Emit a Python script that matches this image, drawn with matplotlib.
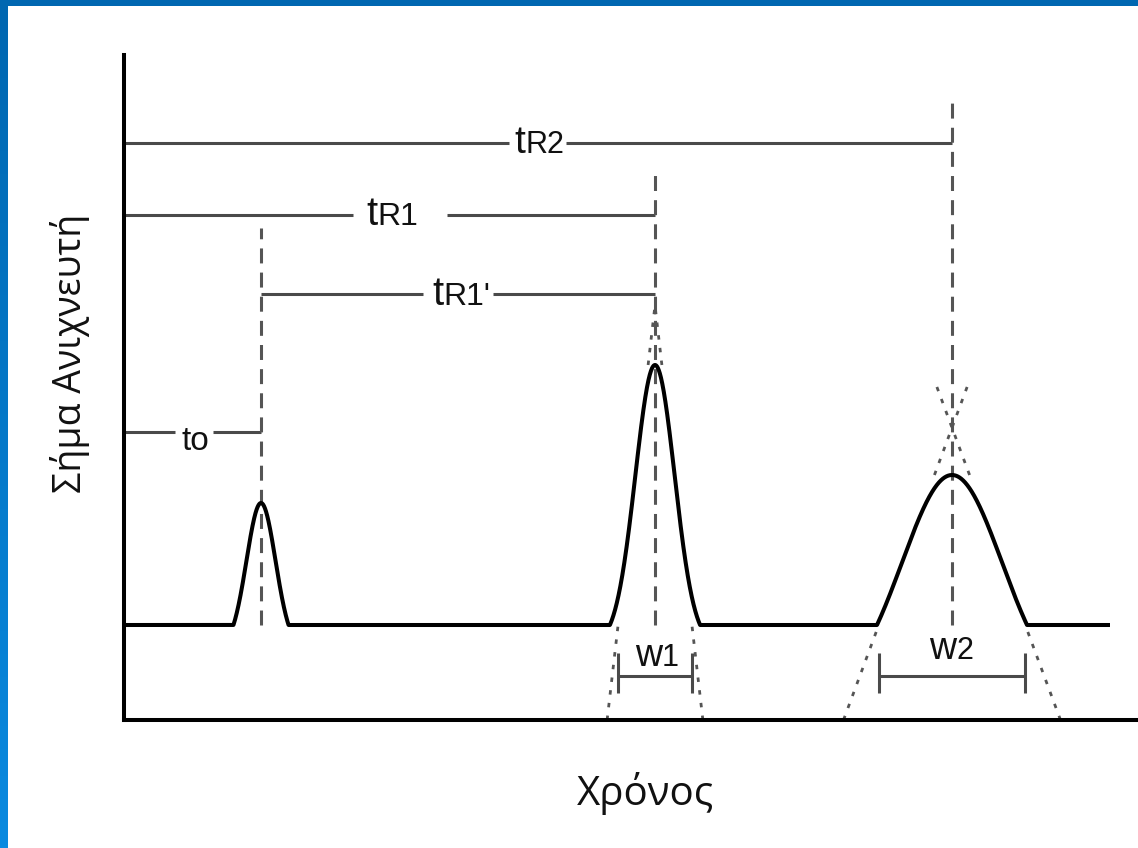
import numpy as np
import matplotlib
matplotlib.use("Agg")
import matplotlib.pyplot as plt
from matplotlib.patches import Rectangle
from matplotlib.colors import LinearSegmentedColormap
from matplotlib.offsetbox import TextArea, HPacker, AnnotationBbox

# ---- chromatogram: three peaks on a flat baseline ----
baseline = 0.95
run_end = 9.86
peak_times = [1.37, 5.31, 8.28]
peak_heights = [1.22, 2.60, 1.50]
peak_sigmas = [0.145, 0.196, 0.50]
peak_cutoffs = [1.9, 2.3, 1.5]          # Gaussian truncation, in sigmas

# dashed retention-time markers: upper end of each
marker_tops = [4.92, 5.45, 6.25]

# dimension lines: level, start, end, gap start, gap end
dim_levels = [2.88, 4.26, 5.05, 5.77]
dim_starts = [0.0, 1.37, 0.0, 0.0]
dim_ends = [1.37, 5.31, 5.31, 8.28]
dim_gap_lo = [0.51, 2.99, 2.29, 3.85]
dim_gap_hi = [0.89, 3.69, 3.23, 4.42]
dim_label_x = [0.715, 3.37, 2.68, 4.15]
dim_label_y = [2.79, 4.26, 5.06, 5.77]
dim_label_main = ["to", "t", "t", "t"]
dim_label_sub = ["", "R1'", "R1", "R2"]
dim_main_size = [24, 29, 29, 28]
dim_sub_size = [24, 23, 23, 22]

# peak widths from tangents at the inflection points
width_peaks = [1, 2]
width_names = ["1", "2"]
tangent_reach = [4.15, 3.35]
width_bar_level = 0.44
width_tick_lo, width_tick_hi = 0.27, 0.67
width_label_x = [5.33, 8.27]
width_label_y = [0.64, 0.71]

W, H = 1138, 848
fig = plt.figure(figsize=(W / 100, H / 100), dpi=100)
fig.patch.set_facecolor("white")

# blue frame: top band and a vertical gradient band on the left
fig.add_artist(Rectangle((0, 1 - 6 / H), 1, 6 / H, transform=fig.transFigure,
                         color="#0067b1", lw=0, zorder=10))
axb = fig.add_axes([0, 0, 8 / W, 1 - 6 / H])
grad = np.linspace(0, 1, 256)[:, None]
cmap = LinearSegmentedColormap.from_list("frame", ["#0067b1", "#0a8ae0"])
axb.imshow(grad, aspect="auto", cmap=cmap, extent=[0, 1, 0, 1], origin="upper")
axb.set_axis_off()

ax = fig.add_axes([124 / W, (H - 720) / H, (W - 124) / W, 665 / H])
ax.set_xlim(0, 10.14)
ax.set_ylim(0, 6.65)
ax.set_xticks([])
ax.set_yticks([])
for s in ["top", "right"]:
    ax.spines[s].set_visible(False)
for s in ["left", "bottom"]:
    ax.spines[s].set_linewidth(2.9)
    ax.spines[s].set_color("black")


def peak_shape(x, c, h, s, k):
    e = np.exp(-k * k / 2)
    z = (x - c) / s
    g = (np.exp(-z * z / 2) - e) / (1 - e)
    g[np.abs(z) > k] = 0
    return h * g


x = np.linspace(0, run_end, 6000)
y = np.full_like(x, baseline)
for c, h, s, k in zip(peak_times, peak_heights, peak_sigmas, peak_cutoffs):
    y += peak_shape(x, c, h, s, k)
ax.plot(x, y, color="black", lw=2.9, solid_capstyle="butt", zorder=5)

gray = "#4a4a4a"
# dashed retention-time markers
for c, top in zip(peak_times, marker_tops):
    ax.plot([c, c], [baseline, top], color="#555555", lw=2.2,
            linestyle=(0, (4.9, 3.0)), zorder=4)

# dimension lines with gaps for their labels
for lv, a, b, g0, g1 in zip(dim_levels, dim_starts, dim_ends, dim_gap_lo, dim_gap_hi):
    ax.plot([a, g0], [lv, lv], color=gray, lw=2.2, solid_capstyle="butt")
    ax.plot([g1, b], [lv, lv], color=gray, lw=2.2, solid_capstyle="butt")

label_font = "Liberation Sans"


def composite_label(parts, xy):
    areas = [TextArea(t, textprops=dict(fontsize=fs, family=label_font, color="#111111"))
             for t, fs in parts if t]
    box = HPacker(children=areas, align="baseline", pad=0, sep=0)
    ab = AnnotationBbox(box, xy, xycoords="data", frameon=False,
                        box_alignment=(0.5, 0.5), pad=0)
    ax.add_artist(ab)


for m, sub, ms, ss, lx, ly in zip(dim_label_main, dim_label_sub, dim_main_size,
                                  dim_sub_size, dim_label_x, dim_label_y):
    composite_label([(m, ms), (sub, ss)], (lx, ly))

# tangents through inflection points and the resulting base widths
dot = dict(color="#555555", lw=2.0, linestyle=(0, (1.6, 3.0)))
for i, reach, name, lx, ly in zip(width_peaks, tangent_reach, width_names,
                                  width_label_x, width_label_y):
    c, h, s, k = peak_times[i], peak_heights[i], peak_sigmas[i], peak_cutoffs[i]
    e = np.exp(-k * k / 2)
    amp = h / (1 - e)
    yi = baseline + amp * (np.exp(-0.5) - e)
    m = amp * np.exp(-0.5) / s
    ends = []
    for sign in (-1, 1):
        xi = c + sign * s
        slope = -sign * m

        def x_at(level):
            return xi + (level - yi) / slope

        ax.plot([x_at(0), x_at(baseline)], [0, baseline], **dot)
        ax.plot([x_at(baseline + h), x_at(reach)], [baseline + h, reach], **dot)
        ends.append(x_at(baseline))
    ax.plot(ends, [width_bar_level] * 2, color=gray, lw=2.2, solid_capstyle="butt")
    for xe in ends:
        ax.plot([xe, xe], [width_tick_lo, width_tick_hi], color=gray, lw=2.2,
                solid_capstyle="butt")
    composite_label([("w", 27), (name, 22)], (lx, ly))

ax.set_xlabel("Χρόνος", fontsize=29, family="Open Sans", color="#111111")
ax.xaxis.set_label_coords(0.514, -0.078)
ax.set_ylabel("Σήμα Ανιχνευτή", fontsize=27, family="Open Sans", color="#111111")
ax.yaxis.set_label_coords(-0.034, 0.552)

fig.savefig("out.png", dpi=100, facecolor="white")
